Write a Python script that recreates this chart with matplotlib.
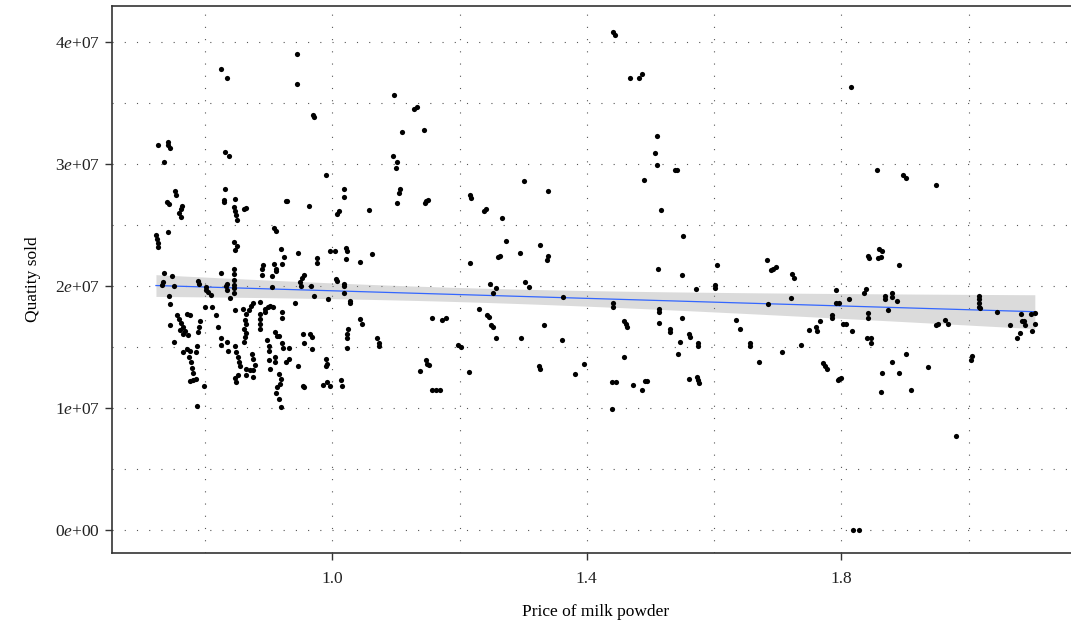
import matplotlib
matplotlib.use("Agg")
import matplotlib.pyplot as plt
import numpy as np

# price of milk powder / quantity sold (in units of 1e7)
price_a = [0.945, 0.945, 0.8255, 0.834, 0.970, 0.972, 0.7265, 0.742, 0.742, 0.745, 0.735, 0.831, 0.838, 0.9895,
           0.753, 0.755, 0.741, 0.743, 0.764, 0.763, 0.760, 0.762, 0.832, 0.830, 0.830, 0.847, 0.846, 0.847,
           0.849, 0.850, 0.862, 0.864, 0.928, 0.929, 0.964, 1.018, 1.019, 1.0105, 1.007, 1.058, 0.723, 0.724,
           0.726, 0.726, 0.742, 0.908, 0.912, 0.846, 0.851, 0.847, 0.920, 0.925, 0.946, 0.976, 0.976, 0.997,
           1.005, 1.022, 1.024, 1.021, 1.044, 1.062, 0.736, 0.749, 0.734, 0.732, 0.752, 0.789, 0.791, 0.826,
           0.846, 0.846, 0.846, 0.846, 0.845, 0.835, 0.833, 0.891, 0.890, 0.889, 0.909, 0.911, 0.912, 0.921,
           0.905, 0.905, 0.956, 0.953, 0.949, 0.951, 0.967, 1.006, 1.008, 1.019, 1.019, 0.802]
qty_a = [3.90, 3.66, 3.78, 3.71, 3.40, 3.385, 3.16, 3.18, 3.16, 3.13, 3.02, 3.10, 3.07, 2.915,
         2.78, 2.745, 2.69, 2.67, 2.655, 2.63, 2.60, 2.57, 2.80, 2.71, 2.69, 2.715, 2.65, 2.615,
         2.58, 2.54, 2.63, 2.64, 2.70, 2.70, 2.655, 2.80, 2.73, 2.615, 2.59, 2.62, 2.42, 2.39,
         2.355, 2.32, 2.44, 2.48, 2.455, 2.36, 2.33, 2.295, 2.30, 2.24, 2.27, 2.23, 2.19, 2.29,
         2.29, 2.315, 2.29, 2.225, 2.20, 2.265, 2.11, 2.08, 2.03, 2.01, 2.00, 2.04, 2.02, 2.11,
         2.14, 2.10, 2.05, 2.01, 1.98, 2.02, 2.00, 2.175, 2.14, 2.09, 2.18, 2.14, 2.12, 2.18,
         2.08, 1.99, 2.09, 2.07, 2.03, 2.00, 2.00, 2.06, 2.04, 2.02, 2.00, 1.99]

price_b = [0.743, 0.745, 0.802, 0.805, 0.809, 0.835, 0.840, 0.846, 0.848, 0.972, 0.994, 1.018, 1.028, 1.028,
           0.941, 0.800, 0.811, 0.817, 0.756, 0.759, 0.763, 0.765, 0.769, 0.773, 0.761, 0.765, 0.772, 0.776,
           0.745, 0.752, 0.793, 0.790, 0.789, 0.787, 0.786, 0.820, 0.826, 0.825, 0.835, 0.836, 0.848, 0.849,
           0.765, 0.772, 0.777, 0.775, 0.778, 0.780, 0.781, 0.776, 0.782, 0.786, 0.787, 0.799, 0.852, 0.853,
           0.855, 0.852, 0.849, 0.848, 0.860, 0.865, 0.869, 0.873, 0.876, 0.863, 0.864, 0.861, 0.864, 0.863,
           0.862, 0.886, 0.886, 0.887, 0.886, 0.886, 0.895, 0.899, 0.903, 0.907, 0.895, 0.921, 0.921, 0.874,
           0.875, 0.879, 0.875, 0.876, 0.865, 0.865, 0.871, 0.898, 0.901, 0.901, 0.901, 0.903, 0.910, 0.913,
           0.917, 0.921, 0.923, 0.932, 0.932, 0.928, 0.910, 0.910, 0.916, 0.919, 0.918, 0.914, 0.912, 0.917,
           0.919, 0.947, 0.954, 0.955, 0.954, 0.955, 0.965, 0.968, 0.969, 0.991, 0.992, 0.990, 0.985, 0.992,
           0.997, 1.014, 1.015, 1.025, 1.024, 1.023, 1.023, 1.043, 1.047]
qty_b = [1.92, 1.855, 1.97, 1.95, 1.93, 1.97, 1.90, 1.945, 1.80, 1.92, 1.89, 1.94, 1.88, 1.86,
         1.86, 1.83, 1.83, 1.765, 1.765, 1.73, 1.70, 1.66, 1.63, 1.60, 1.64, 1.61, 1.77, 1.76,
         1.68, 1.54, 1.71, 1.66, 1.62, 1.51, 1.46, 1.66, 1.57, 1.52, 1.54, 1.47, 1.51, 1.46,
         1.46, 1.48, 1.47, 1.42, 1.38, 1.33, 1.29, 1.22, 1.23, 1.24, 1.02, 1.18, 1.42, 1.38,
         1.34, 1.27, 1.21, 1.245, 1.81, 1.77, 1.80, 1.84, 1.86, 1.72, 1.69, 1.65, 1.615, 1.58,
         1.54, 1.87, 1.77, 1.73, 1.69, 1.65, 1.79, 1.83, 1.84, 1.83, 1.81, 1.79, 1.74, 1.445,
         1.40, 1.35, 1.31, 1.25, 1.32, 1.27, 1.31, 1.56, 1.51, 1.47, 1.39, 1.32, 1.62, 1.59,
         1.59, 1.53, 1.49, 1.49, 1.40, 1.38, 1.42, 1.38, 1.28, 1.24, 1.20, 1.17, 1.12, 1.07,
         1.01, 1.34, 1.61, 1.53, 1.18, 1.17, 1.61, 1.58, 1.48, 1.40, 1.36, 1.34, 1.19, 1.21,
         1.18, 1.23, 1.18, 1.65, 1.61, 1.57, 1.49, 1.73, 1.69]

price_c = [1.097, 1.129, 1.133, 1.109, 1.144, 1.096, 1.102, 1.100, 1.106, 1.105, 1.102, 1.145, 1.148, 1.150,
           1.216, 1.218, 1.239, 1.241, 1.267, 1.301, 1.339, 1.273, 1.216, 1.261, 1.263, 1.295, 1.326, 1.339,
           1.337, 1.248, 1.257, 1.303, 1.309,
           1.252, 1.363, 1.071, 1.073, 1.074, 1.157, 1.172, 1.178, 1.147, 1.149, 1.152, 1.138, 1.157, 1.163,
           1.170, 1.198, 1.202, 1.215, 1.230, 1.243, 1.246, 1.250, 1.253, 1.258, 1.296, 1.332, 1.361, 1.325,
           1.327, 1.382, 1.395]
qty_c = [3.565, 3.45, 3.47, 3.26, 3.28, 3.07, 3.02, 2.97, 2.80, 2.76, 2.68, 2.68, 2.70, 2.71,
         2.75, 2.72, 2.615, 2.63, 2.56, 2.86, 2.78, 2.37, 2.19, 2.24, 2.25, 2.27, 2.34, 2.25,
         2.21, 2.02, 1.98, 2.03, 1.99,
         1.945, 1.91, 1.57, 1.53, 1.505, 1.74, 1.725, 1.74, 1.39, 1.36, 1.35, 1.30, 1.145, 1.145,
         1.15, 1.52, 1.50, 1.295, 1.81, 1.765, 1.75, 1.68, 1.66, 1.57, 1.57, 1.68, 1.555, 1.345,
         1.32, 1.275, 1.36]

price_d = [1.441, 1.445, 1.468, 1.482, 1.486, 1.510, 1.507, 1.511, 1.539, 1.541, 1.490, 1.516, 1.551, 1.512,
           1.550, 1.572, 1.604, 1.602, 1.602, 1.683, 1.689, 1.693, 1.697, 1.722, 1.726, 1.791,
           1.441, 1.441, 1.459, 1.461, 1.463, 1.513, 1.513, 1.514, 1.531, 1.531, 1.550, 1.560, 1.562, 1.546,
           1.544, 1.575, 1.575, 1.459, 1.440, 1.446, 1.473, 1.486, 1.491, 1.495, 1.440, 1.561, 1.573, 1.575,
           1.576, 1.634, 1.641, 1.657, 1.657, 1.671, 1.684, 1.706, 1.721, 1.736, 1.749, 1.760, 1.761, 1.766,
           1.785, 1.785, 1.792, 1.771, 1.774, 1.777, 1.795]
qty_d = [4.085, 4.06, 3.71, 3.71, 3.74, 3.23, 3.09, 2.99, 2.95, 2.95, 2.87, 2.62, 2.41, 2.14,
         2.09, 1.975, 2.17, 2.005, 1.98, 2.21, 2.13, 2.14, 2.16, 2.095, 2.07, 1.97,
         1.86, 1.83, 1.71, 1.686, 1.66, 1.81, 1.79, 1.70, 1.65, 1.62, 1.74, 1.61, 1.58, 1.54,
         1.44, 1.53, 1.505, 1.42, 1.21, 1.21, 1.19, 1.15, 1.22, 1.22, 0.99, 1.24, 1.255, 1.23,
         1.205, 1.72, 1.65, 1.53, 1.505, 1.38, 1.85, 1.455, 1.90, 1.52, 1.64, 1.66, 1.63, 1.71,
         1.76, 1.74, 1.86, 1.37, 1.34, 1.32, 1.23]

price_e = [1.815, 1.856, 1.897, 1.901, 1.949, 1.842, 1.843, 1.859, 1.864, 1.858, 1.862, 1.891, 1.838,
           1.835, 1.796, 1.812, 1.802, 1.807, 1.816, 1.842, 1.842, 1.841, 1.846, 1.846, 1.869, 1.869, 1.880,
           1.880, 1.887, 1.873, 1.796, 1.799, 1.862, 1.864, 1.880, 1.891, 1.901, 1.910, 1.936, 1.949, 1.952,
           1.963, 1.968, 1.980, 1.818, 1.828, 2.004, 2.006, 2.017, 2.017, 2.017, 2.017, 2.018, 2.044, 2.065,
           2.076, 2.080, 2.082, 2.084, 2.087, 2.089, 2.098, 2.104, 2.099, 2.104]
qty_e = [3.63, 2.95, 2.915, 2.89, 2.83, 2.25, 2.23, 2.30, 2.29, 2.23, 2.24, 2.17, 1.975,
         1.94, 1.86, 1.89, 1.685, 1.685, 1.635, 1.78, 1.74, 1.575, 1.575, 1.53, 1.915, 1.89, 1.94,
         1.91, 1.88, 1.80, 1.24, 1.245, 1.13, 1.285, 1.38, 1.285, 1.44, 1.145, 1.335, 1.68, 1.685,
         1.72, 1.69, 0.77, 0.0, 0.0, 1.39, 1.43, 1.92, 1.89, 1.86, 1.83, 1.82, 1.79, 1.68,
         1.575, 1.615, 1.77, 1.71, 1.715, 1.68, 1.77, 1.78, 1.63, 1.69]

x_major = [1.0, 1.4, 1.8]
x_minor = [0.8, 1.2, 1.6, 2.0]
y_ticks = [0, 1e7, 2e7, 3e7, 4e7]
y_minor = [0.5e7, 1.5e7, 2.5e7, 3.5e7]
y_labels = [r"$0e{+}00$", r"$1e{+}07$", r"$2e{+}07$", r"$3e{+}07$", r"$4e{+}07$"]

price = np.concatenate([price_a, price_b, price_c, price_d, price_e])
qty = np.concatenate([qty_a, qty_b, qty_c, qty_d, qty_e]) * 1e7

plt.rcParams["font.family"] = ["Liberation Serif", "DejaVu Serif"]
plt.rcParams["mathtext.fontset"] = "custom"
plt.rcParams["mathtext.rm"] = "Liberation Serif"
plt.rcParams["mathtext.it"] = "Liberation Serif:italic"

fig = plt.figure(figsize=(10.71, 6.25), dpi=100)
# right side of the panel runs off the picture, as in the reference
ax = fig.add_axes([0.1046, 0.1152, 0.9038, 0.8757])

# linear fit with 95% confidence band (geom_smooth(method = "lm") look)
slope, intercept = np.polyfit(price, qty, 1)
n = len(price)
resid = qty - (slope * price + intercept)
s = np.sqrt(np.sum(resid ** 2) / (n - 2))
xs = np.linspace(price.min(), price.max(), 100)
fit = slope * xs + intercept
se = s * np.sqrt(1 / n + (xs - price.mean()) ** 2 / np.sum((price - price.mean()) ** 2))
ax.fill_between(xs, fit - 1.97 * se, fit + 1.97 * se, color="#999999", alpha=0.35, lw=0, zorder=2)
ax.plot(xs, fit, color="#3366FF", lw=0.9, zorder=3)

ax.scatter(price, qty, s=14, color="black", lw=0, zorder=4)

ax.set_xlim(0.654, 2.175)
ax.set_ylim(-0.19e7, 4.30e7)
ax.set_xticks(x_major)
ax.set_xticklabels(["1.0", "1.4", "1.8"])
ax.set_xticks(x_minor, minor=True)
ax.set_yticks(y_ticks)
ax.set_yticklabels(y_labels)
ax.set_yticks(y_minor, minor=True)

ax.grid(True, which="both", color="#555555", lw=0.8, linestyle=(0, (1, 10)))
ax.set_axisbelow(True)
ax.tick_params(which="major", direction="out", length=5, width=1, color="#333333",
               labelsize=12.5, labelcolor="#222222")
ax.tick_params(axis="x", which="major", pad=8)
ax.tick_params(which="minor", length=0)

for side in ["left", "bottom", "top"]:
    ax.spines[side].set_linewidth(1.2)
    ax.spines[side].set_color("#333333")
ax.spines["right"].set_visible(False)

ax.set_xlabel("Price of milk powder", fontsize=12.5, labelpad=12)
ax.set_ylabel("Quatity sold", fontsize=12.5, labelpad=10)

fig.savefig("out.png", dpi=100)
